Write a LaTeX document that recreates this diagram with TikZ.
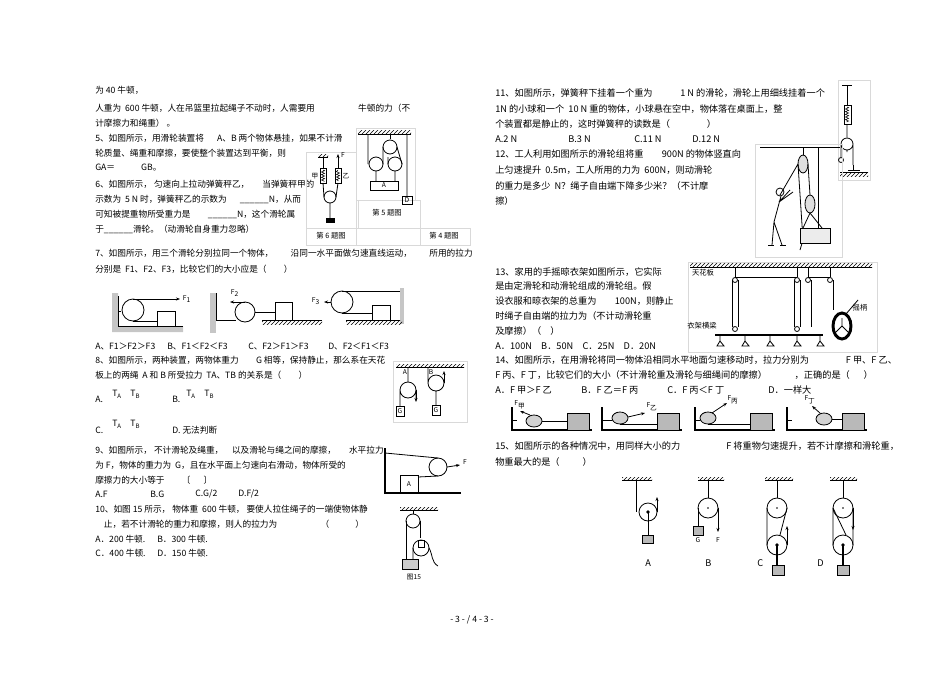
\documentclass[tikz,border=0pt]{standalone}
\usepackage{fontspec}
\setmainfont{Noto Sans CJK SC}
\usetikzlibrary{patterns,arrows.meta,decorations.pathmorphing}
\begin{document}
\begin{tikzpicture}[x=0.75pt,y=-0.75pt,
  t/.style={anchor=west,inner sep=0pt,font=\fontsize{6.5}{8}\selectfont},
  rt/.style={anchor=west,inner sep=0pt,font=\fontsize{6.9}{8}\selectfont},
  s/.style={inner sep=0pt,font=\fontsize{5}{6}\selectfont},
  ln/.style={line width=0.6pt},
  th/.style={line width=1.3pt},
  arr/.style={-{Stealth[length=3pt]},line width=0.6pt},
  blk/.style={draw,line width=0.6pt},
  gblk/.style={draw,fill=gray!55,line width=0.6pt},
  hatch/.style={pattern=north east lines,draw=none},
  zz/.style={decorate,decoration={zigzag,amplitude=1.2pt,segment length=2pt},line width=0.4pt}]
\useasboundingbox (0,0) rectangle (950,672);
% ---------- left column text ----------
\node[t] (l1) at (95,90) {为 40 牛顿，};
\node[t] (l2) at (95,108) {人重为 \ 600 牛顿，人在吊篮里拉起绳子不动时，人需要用\hspace{5em}牛顿的力（不};
\node[t] (l3) at (95,123) {计摩擦力和绳重）\ 。};
\node[t] (l4) at (95,138) {5、如图所示，用滑轮装置将\hspace{1.5em}A、B 两个物体悬挂，如果不计滑};
\node[t] (l5) at (95,153) {轮质量、绳重和摩擦，要使整个装置达到平衡，则};
\node[t] (l6) at (95,168) {GA＝\hspace{3em}GB。};
\node[t] (l7) at (95,184) {6、如图所示，\ 匀速向上拉动弹簧秤乙，\hspace{1.5em}当弹簧秤甲的};
\node[t] (l8) at (95,199) {示数为 \ 5 N 时，弹簧秤乙的示数为\hspace{1.5em}\_\_\_\_\_\_N，从而};
\node[t] (l9) at (95,214) {可知被提重物所受重力是\hspace{2em}\_\_\_\_\_\_N，这个滑轮属};
\node[t] (l10) at (95,229) {于\_\_\_\_\_\_滑轮。（动滑轮自身重力忽略）};
\node[t] (l11) at (95,253) {7、如图所示，用三个滑轮分别拉同一个物体，\hspace{2em}沿同一水平面做匀速直线运动，\hspace{2em}所用的拉力};
\node[t] (l12) at (95,269) {分别是 \ F1、F2、F3，比较它们的大小应是（\hspace{2em}）};
\node[t] (l13) at (95,346) {A、F1＞F2＞F3};
\node[t] (l13b) at (167,346) {B、F1＜F2＜F3};
\node[t] (l13c) at (248,346) {C、F2＞F1＞F3};
\node[t] (l13d) at (328,346) {D、F2＜F1＜F3};
\node[t] (l14) at (95,360) {8、如图所示，两种装置，两物体重力\hspace{2em}G 相等，保持静止，那么系在天花};
\node[t] (l15) at (95,375) {板上的两绳 \ A 和 B 所受拉力 \ TA、TB 的关系是（\hspace{2em}）};
\node[t] (l16) at (95,399) {A.};
\node[t] (l16a) at (112,394) {T\textsubscript{A}\quad T\textsubscript{B}};
\node[t] (l16b) at (172,399) {B.};
\node[t] (l16c) at (186,394) {T\textsubscript{A}\quad T\textsubscript{B}};
\node[t] (l17) at (95,430) {C.};
\node[t] (l17a) at (112,424) {T\textsubscript{A}\quad T\textsubscript{B}};
\node[t] (l17b) at (172,430) {D.\ 无法判断};
\node[t] (l18) at (95,450) {9、如图所示，\ 不计滑轮及绳重，\hspace{1em}以及滑轮与绳之间的摩擦，\hspace{1.5em}水平拉力};
\node[t] (l19) at (95,465) {为 F，物体的重力为 \ G，且在水平面上匀速向右滑动，物体所受的};
\node[t] (l20) at (95,480) {摩擦力的大小等于\hspace{2em}〔\hspace{1.5em}〕};
\node[t] (l21) at (95,494) {A.F};
\node[t] (l21b) at (150,494) {B.G};
\node[t] (l21c) at (195,494) {C.G/2};
\node[t] (l21d) at (238,494) {D.F/2};
\node[t] (l22) at (95,509) {10、如图 15 所示，\ 物体重 \ 600 牛顿，\ 要使人拉住绳子的一端使物体静};
\node[t] (l23) at (95,524) {\quad 止，若不计滑轮的重力和摩擦，则人的拉力为\hspace{5em}（\hspace{3em}）};
\node[t] (l24) at (95,539) {A．200 牛顿.};
\node[t] (l24b) at (157,539) {B．300 牛顿.};
\node[t] (l25) at (95,553) {C．400 牛顿.};
\node[t] (l25b) at (157,553) {D．150 牛顿.};
% ---------- right column text ----------
\node[rt] (r1) at (495,93) {11、如图所示，弹簧秤下挂着一个重为\hspace{3em}1 N 的滑轮，滑轮上用细线挂着一个};
\node[rt] (r2) at (495,109) {1N 的小球和一个 \ 10 N 重的物体，小球悬在空中，物体落在桌面上，整};
\node[rt] (r3) at (495,124) {个装置都是静止的，这时弹簧秤的读数是（\hspace{4em}）};
\node[rt] (r4) at (495,139) {A.2 N};
\node[rt] (r4b) at (568,139) {B.3 N};
\node[rt] (r4c) at (634,139) {C.11 N};
\node[rt] (r4d) at (692,139) {D.12 N};
\node[rt] (r5) at (495,154) {12、工人利用如图所示的滑轮组将重\hspace{2em}900N 的物体竖直向};
\node[rt] (r6) at (495,170) {上匀速提升 \ 0.5m，工人所用的力为 \ 600N，则动滑轮};
\node[rt] (r7) at (495,186) {的重力是多少 \ N？绳子自由端下降多少米？（不计摩};
\node[rt] (r8) at (495,201) {擦）};
\node[rt] (r9) at (495,272) {13、家用的手摇晾衣架如图所示，它实际};
\node[rt] (r10) at (495,286) {是由定滑轮和动滑轮组成的滑轮组。假};
\node[rt] (r11) at (495,301) {设衣服和晾衣架的总重为\hspace{2em}100N，则静止};
\node[rt] (r12) at (495,316) {时绳子自由端的拉力为（不计动滑轮重};
\node[rt] (r13) at (495,331) {及摩擦）（\hspace{1em}）};
\node[rt] (r14) at (495,346) {A．100N\quad B．50N\quad C．25N\quad D．20N};
\node[rt] (r15) at (495,360) {14、如图所示，在用滑轮将同一物体沿相同水平地面匀速移动时，拉力分别为\hspace{4em}F 甲、F 乙、};
\node[rt] (r16) at (495,375) {F 丙、F 丁，比较它们的大小（不计滑轮重及滑轮与细绳间的摩擦）\hspace{3em}，正确的是（\hspace{1.5em}）};
\node[rt] (r17) at (495,390) {A．F 甲＞F 乙};
\node[rt] (r17b) at (581,390) {B．F 乙＝F 丙};
\node[rt] (r17c) at (667,390) {C．F 丙＜F 丁};
\node[rt] (r17d) at (768,390) {D．一样大};
\node[rt] (r18) at (495,446) {15、如图所示的各种情况中，用同样大小的力\hspace{5em}F 将重物匀速提升，若不计摩擦和滑轮重，};
\node[rt] (r19) at (495,462) {物重最大的是（\hspace{2.5em}）};
\node[t] (foot) at (450,620) {- 3 - / 4 - 3 -};
% ---------- Q5/Q6/Q4 figure frame ----------
\draw[gray!30,line width=0.4pt] (306,152) rectangle (356,228) (356,228) rectangle (420,245) (306,228) rectangle (356,245) (420,228) rectangle (470,245) (358,200) rectangle (420,228) (356,128) rectangle (415,200);
\node[s,font=\fontsize{5.5}{6}\selectfont] (c6) at (331,236) {第 6 题图};
\node[s,font=\fontsize{5.5}{6}\selectfont] (c5) at (387,213) {第 5 题图};
\node[s,font=\fontsize{5.5}{6}\selectfont] (c4) at (444,236) {第 4 题图};
% Q5
\fill[hatch] (358,130) rectangle (411,134);
\draw[ln] (358,134) -- (411,134);
\draw[ln] (390,134) -- (390,139);
\draw[ln] (390,147) circle (7);
\draw[ln] (376,164) circle (7) (395,164) circle (7);
\draw[ln] (368,134) -- (368,164) (383,147) -- (383,164) (397,147) -- (402,164)
      (407,134) -- (407,196) (376,171) -- (376,181) (395,171) -- (395,181) (388,164) -- (388,157);
\draw[blk] (370,181) rectangle (398,190);
\node[s] (qa) at (384,185.5) {A};
\draw[blk] (402,196) rectangle (412,204);
\node[s] (qd) at (407,200) {D};
% Q6
\fill[hatch] (318,154) rectangle (328,157);
\draw[ln] (318,157) -- (328,157) (323,157) -- (323,168);
\draw[blk] (320,168) rectangle (326,183);
\draw[blk] (335,168) rectangle (341,183);
\draw[zz] (323,170) -- (323,181) (338,170) -- (338,181);
\node[s] (jia) at (315,176) {甲};
\node[s] (yi) at (346,176) {乙};
\draw[arr] (338,168) -- (338,154);
\node[s] (f6) at (343,155) {F};
\draw[ln] (330,197) circle (6);
\draw[ln] (323,183) -- (324,197) (338,183) -- (336,197) (330,203) -- (330,218);
\fill (326,218) rectangle (335,223);
% ---------- Q7 figures ----------
\fill[gray!45] (112,293) rectangle (118,332) (112,326) rectangle (183,332);
\draw[ln] (118,296) -- (118,326) -- (183,326);
\draw[ln] (118,311) -- (121,311);
\draw[ln] (133,310) circle (11);
\draw[arr] (133,299) -- (180,299);
\node[s] (F1) at (187,299) {F\textsubscript{1}};
\draw[ln] (133,321) -- (157,321);
\draw[blk] (157,311) rectangle (175,326);
\fill[gray!45] (210,293) rectangle (216,333);
\draw[ln] (216,293) -- (216,320) -- (236,320);
\draw[ln] (245,312) circle (10);
\draw[arr] (245,302) -- (230,302);
\node[s] (F2) at (235,293) {F\textsubscript{2}};
\draw[ln] (255,312) -- (275,312);
\draw[blk] (275,302) rectangle (292,320);
\fill[hatch] (262,320) rectangle (322,324);
\draw[ln] (262,320) -- (322,320);
\draw[ln] (342,302) circle (11);
\draw[ln] (342,291) -- (400,291);
\draw[ln] (342,313) -- (372,313);
\draw[arr] (331,302) -- (324,302);
\node[s] (F3) at (316,301) {F\textsubscript{3}};
\draw[blk] (372,305) rectangle (390,320);
\fill[gray!45] (400,288) rectangle (404,324);
\fill[hatch] (346,320) rectangle (402,324);
\draw[ln] (346,320) -- (400,320);
% ---------- Q8 figure ----------
\draw[gray!30,line width=0.4pt] (393,361) rectangle (467,422);
\fill[hatch] (396,364) rectangle (464,367);
\draw[ln] (396,367) -- (464,367);
\node[s] (ta) at (405,372) {A};
\node[s] (tb) at (431,372) {B};
\draw[ln] (408,367) -- (408,382) (408,390) circle (8) (400,390) -- (400,406) (416,390) -- (416,400);
\draw[arr] (416,390) -- (416,402);
\draw[ln] (436,383) circle (8) (436,391) -- (436,405) (428,383) -- (428,367);
\draw[arr] (444,383) -- (444,371);
\draw[blk] (396,406) rectangle (404,416) (432,405) rectangle (440,415);
\node[s] (g1) at (400,411) {G};
\node[s] (g2) at (436,410) {G};
% ---------- Q9 figure ----------
\draw[th] (385,448) -- (385,493) -- (461,493);
\draw[ln] (385,453) -- (438,458);
\draw[ln] (438,467) circle (9);
\draw[ln] (418,477) -- (438,476);
\draw[arr] (447,467) -- (460,465);
\node[s] (f9) at (465,462) {F};
\draw[blk] (400,475) rectangle (418,493);
\node[s] (a9) at (409,484) {A};
% ---------- Q10 figure ----------
\fill[hatch] (400,507) rectangle (438,510);
\draw[ln] (400,510) -- (438,510) (413,510) -- (413,514);
\draw[ln] (413,521) circle (7);
\draw[ln] (406,521) -- (406,559) (420,521) -- (420,538);
\draw[ln] (421,548) circle (8);
\draw[ln] (418,540) rectangle (424,547);
\draw[ln] (413,548) -- (413,559) (429,548) to[out=-60,in=150] (438,566);
\draw[blk,fill=gray!40] (402,559) rectangle (418,569);
\node[s] (c15) at (414,577) {图15};
% ---------- Q11 figure ----------
\draw[gray!30,line width=0.4pt] (838,80) rectangle (870,180);
\draw[ln] (842,85) -- (852,85) (847,85) -- (847,105);
\draw[blk] (844,105) rectangle (851,124);
\draw[zz] (847,107) -- (847,122);
\draw[ln] (847,124) -- (847,137) (847,144) circle (6) (841,144) -- (841,157) (853,144) -- (853,165) (847,150) -- (847,152);
\draw[ln] (841,160) circle (2.5);
\draw[ln] (853,165) -- (853,170) (848,170) -- (860,170);
\fill[hatch] (840,172) rectangle (868,176);
\draw[ln] (840,172) -- (868,172);
% ---------- Q12 figure ----------
\draw[gray!30,line width=0.4pt] (755,144) rectangle (842,257);
\draw[ln] (760,147) -- (840,147);
\draw[ln] (803,147) -- (803,160) (818,147) -- (818,228);
\draw[ln,fill=gray!25] (803,164) ellipse (5 and 9);
\draw[ln,fill=gray!25] (810,204) ellipse (5 and 9);
\draw[ln] (798,164) -- (780,195) (808,164) -- (810,195) (798,164) -- (803,240) -- (800,250);
\draw[ln] (810,213) -- (803,228) (810,213) -- (822,228);
\draw[blk,fill=gray!15] (800,228) rectangle (830,243);
\draw[ln] (780,192) circle (4);
\draw[ln] (781,196) -- (774,222) -- (772,245) (774,222) -- (782,245) (779,202) -- (790,190) (779,202) -- (793,192);
\draw[ln] (768,245) -- (774,245) (780,245) -- (786,245);
% ---------- Q13 figure ----------
\draw[gray!30,line width=0.4pt] (688,262) rectangle (877,352);
\fill[hatch] (690,263) rectangle (872,267);
\draw[ln] (690,267) -- (872,267);
\node[s,font=\fontsize{5.5}{6}\selectfont] (tianhua) at (703,273) {天花板};
\node[s,font=\fontsize{5.5}{6}\selectfont] (yaobing) at (860,308) {摇柄};
\node[s,font=\fontsize{5.5}{6}\selectfont] (hengliang) at (702,326) {衣架横梁};
\foreach \x in {735,797,808,830} \draw[ln] (\x,280) circle (2.5);
\draw[ln] (735,267) -- (735,277) (797,267) -- (797,277) (808,267) -- (808,277) (830,267) -- (830,277);
\draw[ln] (732,280) -- (732,327) (738,280) -- (738,327) (735,277) -- (797,277) (800,280) -- (800,327) (794,280) -- (794,327) (808,277) -- (830,277) (811,280) -- (811,327) (833,280) -- (833,310);
\draw[ln] (735,329) circle (2.5) (797,329) circle (2.5);
\draw[th] (715,335) -- (823,335);
\foreach \x in {720,745,770,797,820} \draw[ln] (\x,335) -- (\x,342) (\x-3,346) -- (\x,341) -- (\x+4,346) -- cycle;
\draw[line width=2.2pt] (842,326) ellipse (9 and 13);
\draw[ln] (842,326) -- (842,318) (842,326) -- (836,332) (842,326) -- (848,332);
\draw[ln] (846,314) -- (858,300);
% ---------- Q14 figures ----------
\foreach \x in {512,602,695,787}{
  \draw[th] (\x,407) -- (\x,430) -- (\x+80,430);
  \draw[gblk] (\x+55,413) rectangle (\x+77,430);
  \draw[ln] (\x,420) -- (\x+5,420);
}
\draw[ln,fill=gray!35] (534,421) ellipse (8 and 6);
\draw[ln] (542,421) -- (567,421);
\draw[arr] (530,415) -- (520,411);
\node[s] (fjia) at (520,405) {F\textsubscript{甲}};
\draw[ln,fill=gray!35] (620,418) ellipse (8 and 6);
\draw[ln] (607,420) -- (612,420) (620,424) -- (657,424);
\draw[arr] (628,417) -- (645,413);
\node[s] (fyi) at (652,407) {F\textsubscript{乙}};
\draw[ln,fill=gray!35] (708,418) ellipse (8 and 6);
\draw[ln] (708,424) -- (750,424);
\draw[arr] (712,413) -- (727,403);
\node[s] (fbing) at (733,400) {F\textsubscript{丙}};
\draw[ln,fill=gray!35] (824,419) ellipse (8 and 6);
\draw[ln] (832,419) -- (842,419);
\draw[arr] (820,413) -- (812,406);
\node[s] (fding) at (810,400) {F\textsubscript{丁}};
% ---------- Q15 figures ----------
\fill[hatch] (622,477) rectangle (652,480);
\draw[ln] (622,480) -- (652,480) (636,480) -- (636,512);
\draw[ln] (648,512) circle (9);
\fill (648,512) circle (1.8);
\draw[arr] (657,512) -- (657,497);
\draw[ln] (648,512) -- (648,535);
\draw[gblk] (642,535) rectangle (653,543);
\node[rt] (la) at (645,563) {A};
\fill[hatch] (698,477) rectangle (724,480);
\draw[ln] (698,480) -- (724,480) (708,480) -- (708,498);
\draw[ln] (708,508) circle (10);
\fill (708,508) circle (0.8);
\draw[ln] (698,508) -- (698,526);
\draw[arr] (718,508) -- (718,532);
\draw[gblk] (693,526) rectangle (703,535);
\node[s] (bg) at (698,540) {G};
\node[s] (bf) at (718,540) {F};
\node[rt] (lb) at (705,563) {B};
\fill[hatch] (765,477) rectangle (793,480);
\draw[ln] (765,480) -- (793,480) (777,480) -- (777,498);
\draw[ln] (777,508) circle (10) (777,545) circle (10);
\fill (777,508) circle (0.8);
\fill (777,545) circle (1.8);
\draw[ln] (767,508) -- (767,545) (787,508) -- (780,535);
\draw[arr] (787,545) -- (787,526);
\draw[th] (777,545) -- (777,565);
\draw[gblk] (772,565) rectangle (784,575);
\node[rt] (lc) at (757,563) {C};
\fill[hatch] (830,477) rectangle (857,480);
\draw[ln] (830,480) -- (857,480) (843,480) -- (843,498);
\draw[ln] (843,508) circle (10) (843,545) circle (10);
\fill (843,508) circle (0.8);
\fill (843,545) circle (1.8);
\draw[ln] (833,508) -- (833,545) (853,545) -- (853,508) (833,508) -- (846,535);
\draw[arr] (853,508) -- (853,530);
\draw[th] (843,545) -- (843,565);
\draw[gblk] (837,565) rectangle (849,575);
\node[rt] (ld) at (817,563) {D};
\end{tikzpicture}
\end{document}
